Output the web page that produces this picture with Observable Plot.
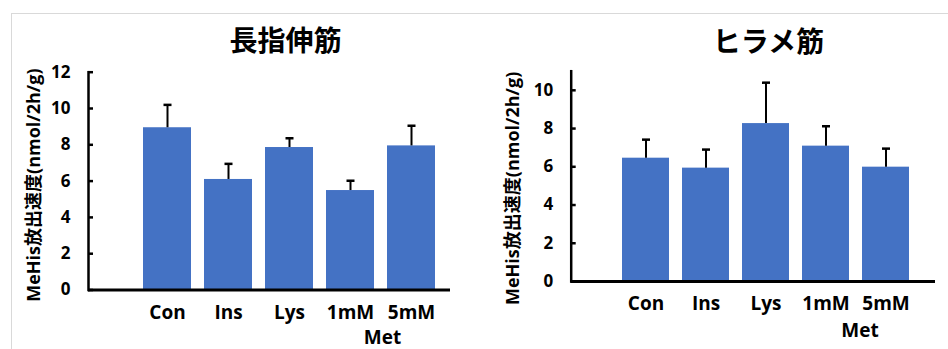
<!DOCTYPE html>
<html>
<head>
<meta charset="utf-8">
<script src="https://cdn.jsdelivr.net/npm/d3@7"></script>
<script src="https://cdn.jsdelivr.net/npm/@observablehq/plot@0.6"></script>
<style>
  body { margin: 0; background: #fff; }
  #wrap { position: relative; width: 948px; height: 349px; display: flex; overflow: hidden; }
  #border { position: absolute; left: 11px; top: 13px; right: -2px; bottom: -2px;
            border-top: 1px solid #d9d9d9; border-left: 1px solid #d9d9d9; pointer-events: none; }
  svg { display: block; }
</style>
</head>
<body>
<div id="wrap"><div id="border"></div></div>
<script>
const categories = ["Con", "Ins", "Lys", "1mM", "5mM"];
const edlMeans  = [8.94, 6.09, 7.85, 5.48, 7.94];
const edlErrors = [1.26, 0.86, 0.51, 0.54, 1.11];
const solMeans  = [6.45, 5.93, 8.26, 7.08, 5.98];
const solErrors = [0.97, 0.97, 2.14, 1.04, 0.97];
const edlTicks = [0, 2, 4, 6, 8, 10, 12];
const solTicks = [0, 2, 4, 6, 8, 10];
const edlTitle = "長指伸筋";
const solTitle = "ヒラメ筋";
const yLabel = "MeHis放出速度(nmol/2h/g)";
const groupLabel = "Met";
const groupAnchor = "1mM";

const FONT = '"Open Sans", "Noto Sans CJK JP", sans-serif';
const capSymbol = { draw(ctx) { ctx.moveTo(-4, 0); ctx.lineTo(4, 0); } };

function panel({means, errors, ticks, yMax, title, m, xRange, titleDx, titleDy, labelDx, labelDy, groupDx, groupDy}) {
  const data = categories.map((c, i) => ({cat: c, mean: means[i], err: errors[i]}));
  return Plot.plot({
    width: 474,
    height: 349,
    marginLeft: m[0], marginRight: m[1], marginTop: m[2], marginBottom: m[3],
    style: {fontFamily: FONT, color: "black", background: "transparent", overflow: "visible"},
    x: {type: "band", domain: categories, range: xRange, padding: 0.22},
    y: {domain: [0, yMax]},
    marks: [
      Plot.barY(data, {x: "cat", y: "mean", fill: "#4472C4"}),
      Plot.ruleX(data, {x: "cat", y1: "mean", y2: d => d.mean + d.err, stroke: "black", strokeWidth: 2}),
      Plot.dot(data, {x: "cat", y: d => d.mean + d.err, symbol: capSymbol, fill: "none", stroke: "black", strokeWidth: 2.5}),
      Plot.frame({anchor: "left", stroke: "black", strokeWidth: 2.5}),
      Plot.ruleY([0], {stroke: "black", strokeWidth: 3}),
      Plot.axisY({ticks, tickSize: -5, tickPadding: 23, strokeWidth: 2.5, fontSize: 17, fontWeight: "bold", label: null, tickFormat: d => String(d)}),
      Plot.axisX({tickSize: 0, tickPadding: 15, fontSize: 19, fontWeight: "bold", label: null}),
      Plot.text([groupLabel], {x: () => groupAnchor, frameAnchor: "bottom", text: d => d, dx: groupDx, dy: groupDy, fontSize: 19, fontWeight: "bold", lineAnchor: "middle"}),
      Plot.text([title], {frameAnchor: "top", text: d => d, dx: titleDx, dy: titleDy, fontSize: 28, fontWeight: "bold", lineAnchor: "middle", fontFamily: '"Noto Sans CJK JP", sans-serif'}),
      Plot.text([yLabel], {frameAnchor: "left", text: d => d, rotate: -90, textAnchor: "middle", dx: labelDx, dy: labelDy, fontSize: 18, fontWeight: "bold", lineAnchor: "middle"})
    ]
  });
}

const wrap = document.getElementById("wrap");
wrap.appendChild(panel({
  means: edlMeans, errors: edlErrors, ticks: edlTicks, yMax: 12, title: edlTitle,
  m: [88, 24, 71.7, 59.5], xRange: [128.5, 449.5],
  titleDx: 16, titleDy: -30, labelDx: -54, labelDy: 4, groupDx: 32, groupDy: 47.5
}));
wrap.appendChild(panel({
  means: solMeans, errors: solErrors, ticks: solTicks, yMax: 11, title: solTitle,
  m: [96.7, 13, 70.7, 68], xRange: [135, 448.5],
  titleDx: 15, titleDy: -28, labelDx: -58, labelDy: 12, groupDx: 34, groupDy: 49
}));
</script>
</body>
</html>
